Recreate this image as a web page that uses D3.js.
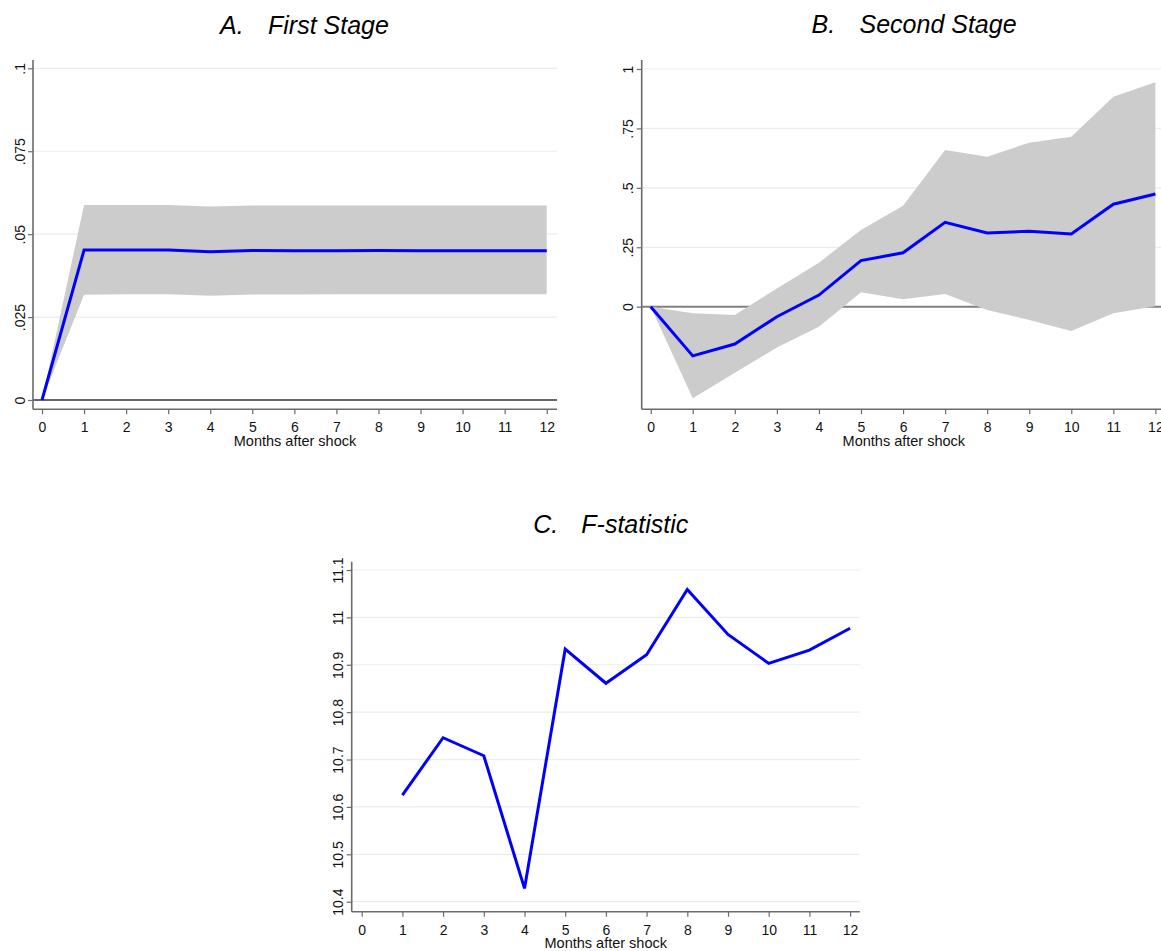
<!DOCTYPE html>
<html>
<head>
<meta charset="utf-8">
<script src="https://cdn.jsdelivr.net/npm/d3@7"></script>
<style>
  html, body { margin: 0; padding: 0; background: #fff; }
  svg { display: block; font-family: "Liberation Sans", Arial, Helvetica, sans-serif; }
</style>
</head>
<body>
<svg id="chart" width="1161" height="951"></svg>
<script>
// ---------- data ----------
const months = [0, 1, 2, 3, 4, 5, 6, 7, 8, 9, 10, 11, 12];

const stage1Mean  = [0, 0.0452, 0.0452, 0.0452, 0.0447, 0.0451, 0.0450, 0.0450, 0.0451, 0.0450, 0.0450, 0.0450, 0.0450];
const stage1Upper = [0, 0.0588, 0.0588, 0.0588, 0.0583, 0.0586, 0.0586, 0.0586, 0.0586, 0.0586, 0.0586, 0.0586, 0.0586];
const stage1Lower = [0, 0.0317, 0.0319, 0.0319, 0.0314, 0.0318, 0.0318, 0.0319, 0.0319, 0.0319, 0.0319, 0.0319, 0.0319];

const stage2Mean  = [0, -0.207, -0.157, -0.042, 0.049, 0.194, 0.227, 0.355, 0.310, 0.317, 0.306, 0.431, 0.474];
const stage2Upper = [0, -0.028, -0.035, 0.077, 0.185, 0.323, 0.425, 0.659, 0.631, 0.690, 0.715, 0.883, 0.944];
const stage2Lower = [0, -0.385, -0.278, -0.172, -0.084, 0.061, 0.031, 0.053, -0.014, -0.056, -0.102, -0.028, 0.002];

const fMonths = [1, 2, 3, 4, 5, 6, 7, 8, 9, 10, 11, 12];
const fStat   = [10.625, 10.746, 10.708, 10.428, 10.933, 10.861, 10.921, 11.059, 10.964, 10.903, 10.931, 10.977];

const stage1Ticks = [0, 0.025, 0.05, 0.075, 0.1];
const stage1TickLabels = ["0", ".025", ".05", ".075", ".1"];
const stage2Ticks = [0, 0.25, 0.5, 0.75, 1];
const stage2TickLabels = ["0", ".25", ".5", ".75", "1"];
const fTicks = [10.4, 10.5, 10.6, 10.7, 10.8, 10.9, 11, 11.1];
const fTickLabels = ["10.4", "10.5", "10.6", "10.7", "10.8", "10.9", "11", "11.1"];

const xTitle = "Months after shock";

// ---------- drawing ----------
const svg = d3.select("#chart");
const AXIS = "#6b6b6b", GRID = "#e6eef1", BAND = "#cccccc", LINE = "#0000ff";

function panel(cfg) {
  const g = svg.append("g");
  const x = d3.scaleLinear().domain([0, 12]).range([cfg.x0, cfg.x12]);
  const y = d3.scaleLinear().domain([cfg.yA, cfg.yB]).range([cfg.pyA, cfg.pyB]);

  // gridlines
  g.append("g").selectAll("line").data(cfg.grid).join("line")
    .attr("x1", cfg.left).attr("x2", cfg.right)
    .attr("y1", d => y(d)).attr("y2", d => y(d))
    .attr("stroke", GRID).attr("stroke-width", 1.2);

  // zero reference line
  if (cfg.zero) {
    g.append("line")
      .attr("x1", cfg.left).attr("x2", cfg.right)
      .attr("y1", y(0)).attr("y2", y(0))
      .attr("stroke", cfg.zero.color).attr("stroke-width", cfg.zero.width);
  }

  // confidence band
  if (cfg.upper) {
    const area = d3.area()
      .x((d, i) => x(cfg.xs[i]))
      .y0((d, i) => y(cfg.lower[i]))
      .y1((d, i) => y(cfg.upper[i]));
    g.append("path").datum(cfg.upper).attr("d", area).attr("fill", BAND);
  }

  // main line
  const line = d3.line().x((d, i) => x(cfg.xs[i])).y(d => y(d));
  g.append("path").datum(cfg.vals).attr("d", line)
    .attr("fill", "none").attr("stroke", LINE).attr("stroke-width", 3)
    .attr("stroke-linejoin", "miter");

  // x axis
  const xa = g.append("g").attr("transform", `translate(0,${cfg.bottom})`)
    .call(d3.axisBottom(x).tickValues(months).tickFormat(d3.format("d")).tickSize(5).tickPadding(4));
  xa.select(".domain").remove();
  xa.selectAll(".tick line").attr("stroke", AXIS).attr("stroke-width", 1.2);
  xa.selectAll(".tick text").attr("fill", "#111").style("font-size", "14px")
    .attr("dy", 0).attr("y", 23);
  g.append("line").attr("x1", cfg.left).attr("x2", cfg.right)
    .attr("y1", cfg.bottom).attr("y2", cfg.bottom)
    .attr("stroke", AXIS).attr("stroke-width", 1.6);

  // y axis
  const ya = g.append("g").attr("transform", `translate(${cfg.left},0)`)
    .call(d3.axisLeft(y).tickValues(cfg.ticks).tickFormat((d, i) => cfg.tickLabels[i]).tickSize(5));
  ya.select(".domain").remove();
  ya.selectAll(".tick line").attr("stroke", AXIS).attr("stroke-width", 1.2);
  ya.selectAll(".tick text").attr("fill", "#111").style("font-size", "14px")
    .attr("transform", "rotate(-90)").attr("x", 0).attr("y", -8.5).attr("dy", 0)
    .attr("text-anchor", "middle");
  g.append("line").attr("x1", cfg.left).attr("x2", cfg.left)
    .attr("y1", cfg.top).attr("y2", cfg.bottom)
    .attr("stroke", AXIS).attr("stroke-width", 1.6);

  // axis title
  g.append("text").attr("x", (cfg.left + cfg.right) / 2).attr("y", cfg.bottom + 36.5)
    .attr("text-anchor", "middle").style("font-size", "14.5px").attr("fill", "#111")
    .text(xTitle);

  // panel title
  g.append("text").attr("x", cfg.titleX).attr("y", cfg.titleY)
    .style("font-size", "25px").style("font-style", "italic").attr("fill", "#000")
    .text(cfg.letter);
  g.append("text").attr("x", cfg.titleX + 48).attr("y", cfg.titleY)
    .style("font-size", "25px").style("font-style", "italic").attr("fill", "#000")
    .text(cfg.title);
}

panel({
  letter: "A.", title: "First Stage", titleX: 220, titleY: 33.5,
  left: 33, right: 557, top: 60, bottom: 409.3,
  x0: 42, x12: 546.7,
  yA: 0, yB: 0.1, pyA: 400, pyB: 68.3,
  grid: [0.025, 0.05, 0.075, 0.1],
  zero: { color: "#333", width: 1.6 },
  ticks: stage1Ticks, tickLabels: stage1TickLabels,
  xs: months, vals: stage1Mean, upper: stage1Upper, lower: stage1Lower
});

panel({
  letter: "B.", title: "Second Stage", titleX: 811.5, titleY: 32.5,
  left: 641.7, right: 1166, top: 60, bottom: 409.3,
  x0: 650.7, x12: 1155.4,
  yA: 0, yB: 1, pyA: 306.7, pyB: 69,
  grid: [0.25, 0.5, 0.75, 1],
  zero: { color: "#808080", width: 2 },
  ticks: stage2Ticks, tickLabels: stage2TickLabels,
  xs: months, vals: stage2Mean, upper: stage2Upper, lower: stage2Lower
});

panel({
  letter: "C.", title: "F-statistic", titleX: 533.3, titleY: 533.3,
  left: 351.7, right: 859.8, top: 561.7, bottom: 911.7,
  x0: 361.7, x12: 850.1,
  yA: 10.4, yB: 11.1, pyA: 901.7, pyB: 570,
  grid: fTicks,
  zero: null,
  ticks: fTicks, tickLabels: fTickLabels,
  xs: fMonths, vals: fStat
});
</script>
</body>
</html>
